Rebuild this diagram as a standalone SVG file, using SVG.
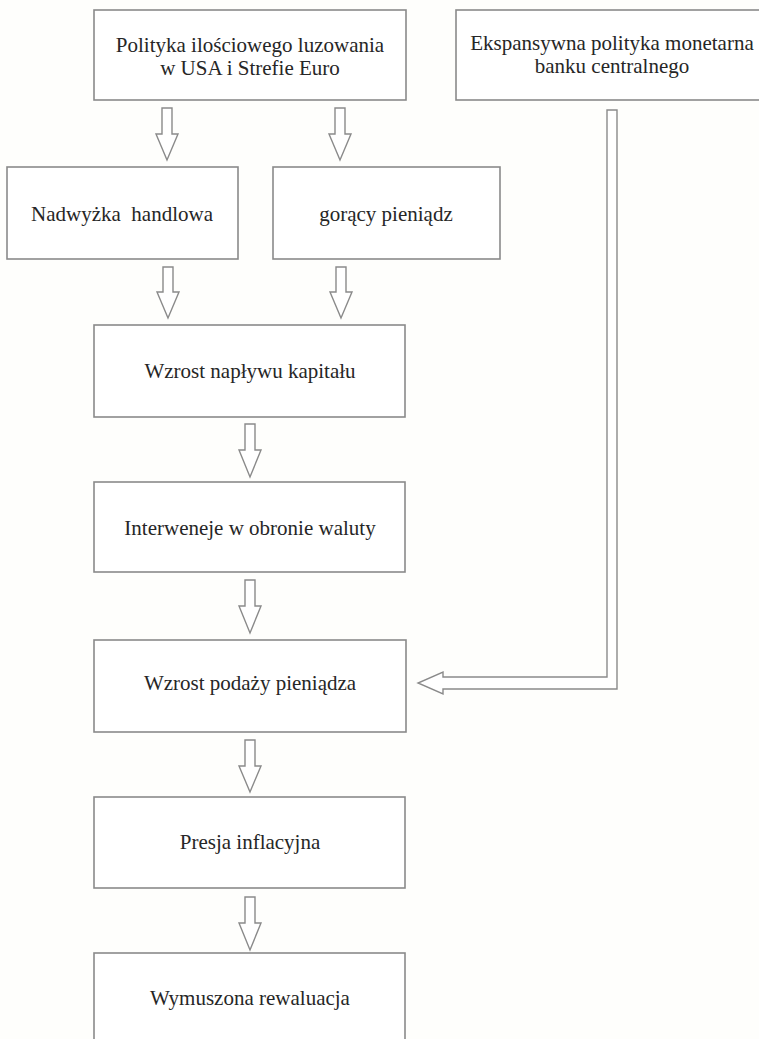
<svg xmlns="http://www.w3.org/2000/svg" width="759" height="1039" viewBox="0 0 759 1039">
  <style>
    .box { fill: #ffffff; stroke: #8a8a8a; stroke-width: 1.6; }
    .arrow { fill: #ffffff; stroke: #8a8a8a; stroke-width: 1.4; stroke-linejoin: miter; }
    .label { font-family: "Liberation Serif", "Times New Roman", serif; font-size: 21px; fill: #262626; text-anchor: middle; white-space: pre; }
  </style>
  <rect x="0" y="0" width="759" height="1039" fill="#fefefc"/>

  <!-- connectors (hollow block arrows) -->
  <g id="connectors">
    <path class="arrow" d="M162,108 H172 V134 H178 L167,160 L156,134 H162 Z"/>
    <path class="arrow" d="M335,108 H345 V134 H351 L340,160 L329,134 H335 Z"/>
    <path class="arrow" d="M163,267 H173 V292 H179 L168,318 L157,292 H163 Z"/>
    <path class="arrow" d="M336,267 H346 V292 H352 L341,318 L330,292 H336 Z"/>
    <path class="arrow" d="M245,424 H255 V450 H261 L250,477 L239,450 H245 Z"/>
    <path class="arrow" d="M245,580 H255 V606 H261 L250,633 L239,606 H245 Z"/>
    <path class="arrow" d="M245,740 H255 V766 H261 L250,792 L239,766 H245 Z"/>
    <path class="arrow" d="M245,897 H255 V923 H261 L250,950 L239,923 H245 Z"/>
    <path class="arrow" d="M607,110 H617 V689 H443 V694 L418,683 L443,672 V677 H607 Z"/>
  </g>

  <g id="node-qe">
    <rect class="box" x="94" y="10" width="312" height="90"/>
    <text class="label" x="250" y="52">Polityka ilościowego luzowania</text>
    <text class="label" x="250" y="75">w USA i Strefie Euro</text>
  </g>

  <g id="node-ekspansywna">
    <rect class="box" x="456" y="10" width="310" height="90"/>
    <text class="label" x="612" y="50">Ekspansywna polityka monetarna</text>
    <text class="label" x="612" y="73">banku centralnego</text>
  </g>

  <g id="node-nadwyzka">
    <rect class="box" x="7" y="167" width="231" height="92"/>
    <text class="label" x="122" y="221">Nadwyżka  handlowa</text>
  </g>

  <g id="node-goracy">
    <rect class="box" x="273" y="167" width="227" height="92"/>
    <text class="label" x="386" y="221">gorący pieniądz</text>
  </g>

  <g id="node-naplyw">
    <rect class="box" x="94" y="325" width="311" height="92"/>
    <text class="label" x="250" y="378">Wzrost napływu kapitału</text>
  </g>

  <g id="node-interwencje">
    <rect class="box" x="94" y="482" width="311" height="90"/>
    <text class="label" x="250" y="535">Interweneje w obronie waluty</text>
  </g>

  <g id="node-podaz">
    <rect class="box" x="94" y="640" width="312" height="92"/>
    <text class="label" x="250" y="690">Wzrost podaży pieniądza</text>
  </g>

  <g id="node-presja">
    <rect class="box" x="94" y="797" width="311" height="91"/>
    <text class="label" x="250" y="849">Presja inflacyjna</text>
  </g>

  <g id="node-rewaluacja">
    <rect class="box" x="94" y="953" width="311" height="100"/>
    <text class="label" x="250" y="1005">Wymuszona rewaluacja</text>
  </g>
</svg>
